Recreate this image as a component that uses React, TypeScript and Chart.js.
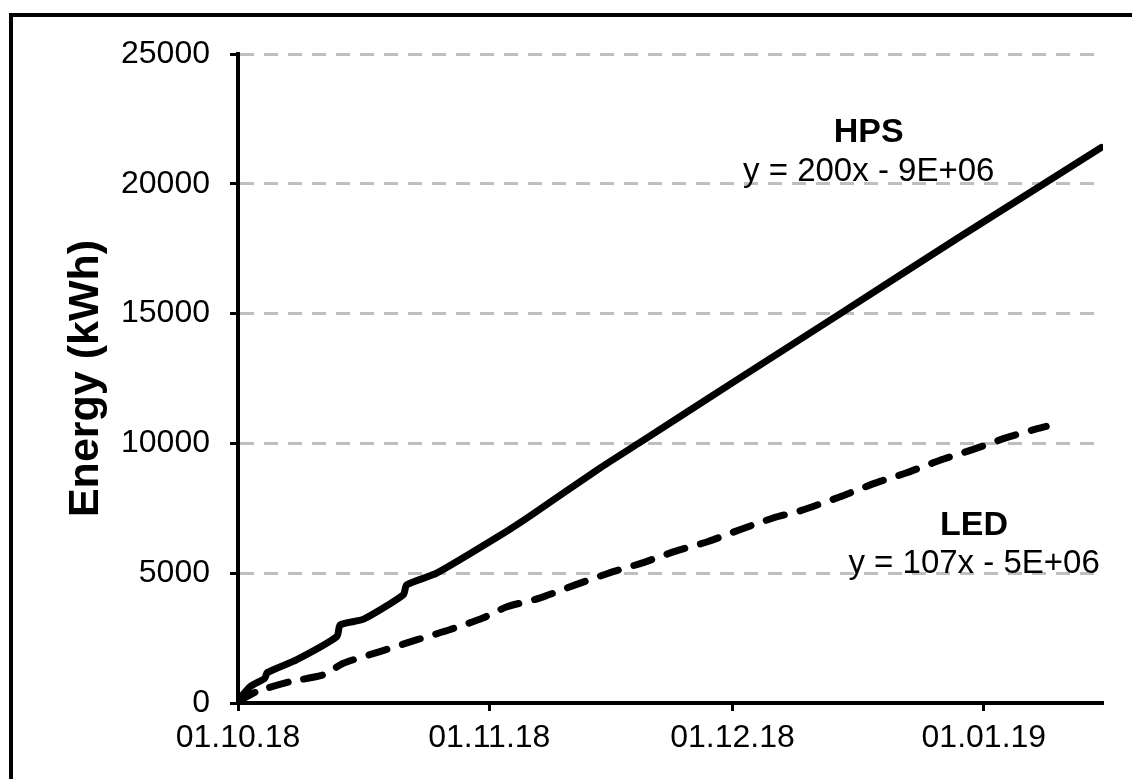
import { useEffect, useRef } from 'react';
import { Chart, registerables } from 'chart.js';

Chart.register(...registerables);

// ---- data (days since 01.10.18, energy in kWh) ----
const hpsDays = [0, 1.5, 3.3, 3.6, 7.2, 12.2, 12.6, 15.5, 20.4, 20.8, 24.5, 32.3, 36, 44.6, 49.4, 61.3, 74.3, 89.0, 106.5];
const hpsEnergy = [100, 630, 950, 1170, 1660, 2560, 3010, 3230, 4170, 4550, 5000, 6450, 7200, 9040, 10000, 12400, 15000, 17950, 21400];

const ledDays = [0, 2.3, 6.4, 10.5, 13.0, 17.5, 22.0, 26.1, 30.2, 33.1, 37.2, 41.6, 45.7, 49.8, 53.9, 58.0, 61.9, 66.0, 69.5, 74.2, 78.4, 82.4, 86.6, 90.6, 94.7, 98.6, 99.7];
const ledEnergy = [50, 440, 820, 1080, 1530, 1980, 2430, 2820, 3270, 3700, 4040, 4550, 5000, 5390, 5840, 6220, 6675, 7125, 7420, 7935, 8450, 8860, 9350, 9760, 10210, 10570, 10660];

const xTickDays = [0, 31, 61, 92];
const xTickLabels = ['01.10.18', '01.11.18', '01.12.18', '01.01.19'];
const yTickValues = [0, 5000, 10000, 15000, 20000, 25000];

const seriesNames = ['HPS', 'LED'];
const trendLabels = ['y = 200x - 9E+06', 'y = 107x - 5E+06'];
const yTitle = 'Energy (kWh)';

const FONT = '"Liberation Sans", Arial, Helvetica, sans-serif';

// label anchors in data units (day, kWh): [name baseline, equation baseline]
const labelAnchors = [
  { x: 77.8, nameY: 21600, eqY: 20100 },
  { x: 90.8, nameY: 6480, eqY: 5010 },
];

const annotationPlugin = {
  id: 'trendAnnotations',
  afterDatasetsDraw(chart: any) {
    const { ctx, scales } = chart;
    const xs = scales.x;
    const ys = scales.y;
    ctx.save();
    ctx.fillStyle = '#000';
    ctx.textAlign = 'center';
    ctx.textBaseline = 'alphabetic';
    labelAnchors.forEach((a, i) => {
      const px = xs.getPixelForValue(a.x);
      ctx.font = `bold 34px ${FONT}`;
      ctx.fillText(seriesNames[i], px, ys.getPixelForValue(a.nameY));
      ctx.font = `33px ${FONT}`;
      ctx.fillText(trendLabels[i], px, ys.getPixelForValue(a.eqY));
    });
    ctx.restore();
  },
};

export default function App() {
  const canvasRef = useRef<HTMLCanvasElement | null>(null);

  useEffect(() => {
    const canvas = canvasRef.current;
    if (!canvas) return;
    const chart = new Chart(canvas, {
      type: 'line',
      data: {
        datasets: [
          {
            label: seriesNames[0],
            data: hpsDays.map((d, i) => ({ x: d, y: hpsEnergy[i] })),
            borderColor: '#000',
            borderWidth: 7,
            pointRadius: 0,
            tension: 0.2,
            fill: false,
            borderCapStyle: 'round',
            borderJoinStyle: 'round',
          },
          {
            label: seriesNames[1],
            data: ledDays.map((d, i) => ({ x: d, y: ledEnergy[i] })),
            borderColor: '#000',
            borderWidth: 7,
            borderDash: [19, 16],
            borderCapStyle: 'round',
            borderJoinStyle: 'round',
            pointRadius: 0,
            tension: 0.2,
            fill: false,
          },
        ],
      },
      options: {
        responsive: false,
        animation: false,
        devicePixelRatio: 1,
        layout: { padding: { top: 54, right: 29, bottom: 0, left: 0 } },
        plugins: {
          legend: { display: false },
          tooltip: { enabled: false },
          title: { display: false },
        },
        scales: {
          x: {
            type: 'linear',
            min: 0,
            max: 106.7,
            afterBuildTicks: (scale: any) => {
              scale.ticks = xTickDays.map((v) => ({ value: v }));
            },
            afterFit: (scale: any) => {
              scale.height = 76;
            },
            ticks: {
              autoSkip: false,
              maxRotation: 0,
              minRotation: 0,
              padding: 8,
              color: '#000',
              font: { family: FONT, size: 32 },
              callback: (value: any) => {
                const idx = xTickDays.indexOf(Number(value));
                return idx >= 0 ? xTickLabels[idx] : '';
              },
            },
            grid: {
              display: true,
              drawOnChartArea: false,
              drawTicks: true,
              tickLength: 8,
              tickColor: '#000',
              tickWidth: 3,
            },
            border: { display: true, color: '#000', width: 4 },
          },
          y: {
            type: 'linear',
            min: 0,
            max: 25000,
            afterBuildTicks: (scale: any) => {
              scale.ticks = yTickValues.map((v) => ({ value: v }));
            },
            afterFit: (scale: any) => {
              scale.width = 238;
            },
            ticks: {
              padding: 20,
              color: '#000',
              font: { family: FONT, size: 32 },
              callback: (value: any) => String(value),
            },
            grid: {
              display: true,
              drawOnChartArea: true,
              drawTicks: true,
              color: '#BFBFBF',
              lineWidth: 3,
              tickLength: 8,
              tickColor: '#000',
              tickWidth: 3,
            },
            border: { display: true, color: '#000', width: 4, dash: [14, 10] },
            title: {
              display: true,
              text: yTitle,
              color: '#000',
              font: { family: FONT, size: 43, weight: 'bold' },
              padding: { top: 60, bottom: 0 },
            },
          },
        },
      },
      plugins: [annotationPlugin],
    } as any);
    return () => chart.destroy();
  }, []);

  return (
    <div
      style={{
        position: 'fixed',
        left: 0,
        top: 0,
        width: 1132,
        height: 779,
        overflow: 'hidden',
        background: '#fff',
      }}
    >
      <div
        style={{
          position: 'absolute',
          left: 9,
          top: 13,
          width: 1200,
          height: 900,
          borderLeft: '4px solid #000',
          borderTop: '4px solid #000',
          boxSizing: 'border-box',
        }}
      />
      <canvas
        ref={canvasRef}
        width={1132}
        height={779}
        style={{ position: 'absolute', left: 0, top: 0, width: 1132, height: 779 }}
      />
    </div>
  );
}
